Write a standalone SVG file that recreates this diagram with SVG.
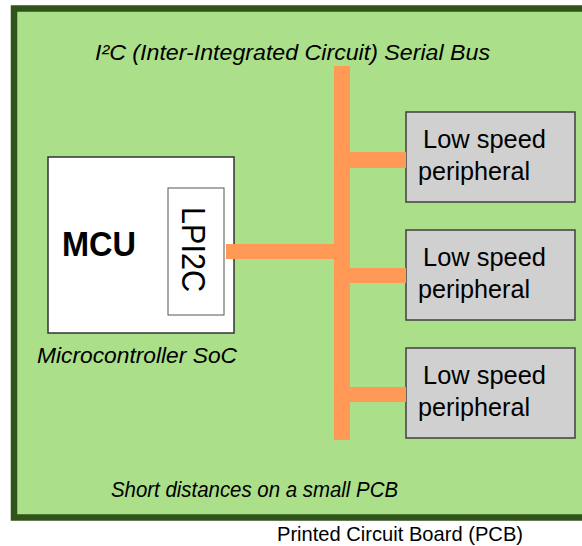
<svg xmlns="http://www.w3.org/2000/svg" width="582" height="546" viewBox="0 0 582 546">
<style>
text{font-family:"Liberation Sans",Arial,sans-serif;fill:#000}
.it{font-style:italic;font-size:22px}
.per{fill:#d0d0d0;stroke:#404040;stroke-width:1.5}
.pt{font-size:25px}
.bus{fill:#ff9955}
</style>
<rect width="582" height="546" fill="#ffffff"/>
<g id="board">
<rect x="14" y="8.5" width="600" height="509" fill="#acdf89" stroke="#2f5318" stroke-width="6.5"/>
<text class="it" x="95" y="60" textLength="395" lengthAdjust="spacingAndGlyphs">I²C (Inter-Integrated Circuit) Serial Bus</text>
<text class="it" x="111" y="497" textLength="287" lengthAdjust="spacingAndGlyphs">Short distances on a small PCB</text>
</g>
<text id="pcb-label" x="277" y="541" font-size="21" textLength="246" lengthAdjust="spacingAndGlyphs">Printed Circuit Board (PCB)</text>
<g id="mcu">
<rect x="48" y="157" width="186" height="176" fill="#ffffff" stroke="#333333" stroke-width="1.5"/>
<text x="62" y="256" font-size="35" font-weight="bold" textLength="74" lengthAdjust="spacingAndGlyphs">MCU</text>
<text class="it" x="37" y="363" textLength="200" lengthAdjust="spacingAndGlyphs" style="font-size:22px">Microcontroller SoC</text>
</g>
<g id="lpi2c">
<rect x="168" y="188" width="56" height="127" fill="#ffffff" stroke="#555555" stroke-width="1"/>
<text transform="translate(182,207) rotate(90)" font-size="34" textLength="85" lengthAdjust="spacingAndGlyphs">LPI2C</text>
</g>
<g id="peripheral1">
<rect class="per" x="406" y="112" width="169" height="90"/>
<text class="pt" x="423" y="148" textLength="123" lengthAdjust="spacingAndGlyphs">Low speed</text>
<text class="pt" x="418" y="180" textLength="112" lengthAdjust="spacingAndGlyphs">peripheral</text>
</g>
<g id="peripheral2">
<rect class="per" x="406" y="230" width="169" height="90"/>
<text class="pt" x="423" y="266" textLength="123" lengthAdjust="spacingAndGlyphs">Low speed</text>
<text class="pt" x="418" y="298" textLength="112" lengthAdjust="spacingAndGlyphs">peripheral</text>
</g>
<g id="peripheral3">
<rect class="per" x="406" y="348" width="169" height="90"/>
<text class="pt" x="423" y="384" textLength="123" lengthAdjust="spacingAndGlyphs">Low speed</text>
<text class="pt" x="418" y="416" textLength="112" lengthAdjust="spacingAndGlyphs">peripheral</text>
</g>
<g id="connectors">
<rect class="bus" x="334" y="66" width="16" height="374"/>
<rect class="bus" x="226" y="244" width="108" height="15"/>
<rect class="bus" x="350" y="152" width="56" height="16"/>
<rect class="bus" x="350" y="268" width="56" height="15"/>
<rect class="bus" x="350" y="387" width="56" height="15"/>
</g>
</svg>
